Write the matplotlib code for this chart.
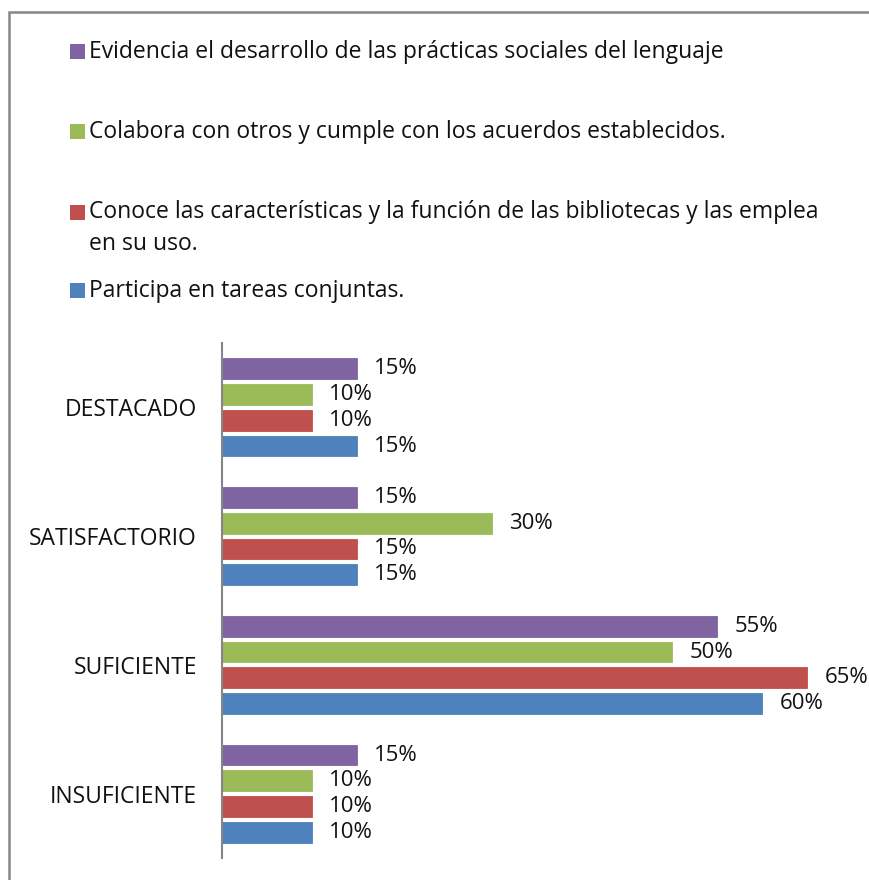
import numpy as np
import matplotlib
matplotlib.use("Agg")
import matplotlib.pyplot as plt
from matplotlib.patches import Rectangle

# categories bottom -> top
categories = ["INSUFICIENTE", "SUFICIENTE", "SATISFACTORIO", "DESTACADO"]

# series drawn from bottom of each group to top
series_names = [
    "Participa en tareas conjuntas.",
    "Conoce las características y la función de las bibliotecas y las emplea\nen su uso.",
    "Colabora con otros y cumple con los acuerdos establecidos.",
    "Evidencia el desarrollo de las prácticas sociales del lenguaje",
]
participa = [10, 60, 15, 15]
conoce = [10, 65, 15, 10]
colabora = [10, 50, 30, 10]
evidencia = [15, 55, 15, 15]
series_values = [participa, conoce, colabora, evidencia]
colors = ["#4F81BD", "#C0504D", "#9BBB59", "#8064A2"]

W, H = 870, 880
FONT = "Open Sans"
TXT = "#111111"
fig = plt.figure(figsize=(W / 100, H / 100), dpi=100)

# chart frame (only left and top edges visible)
fig.patches.append(Rectangle((9 / W, -0.1), 1.2, (H - 12) / H + 0.1,
                             transform=fig.transFigure, fill=False,
                             edgecolor="#878787", linewidth=1.8))

# plot area in pixels
left, right = 222, 852
top, bottom = 343, 858
ax = fig.add_axes([left / W, 1 - bottom / H, (right - left) / W, (bottom - top) / H])
ax.set_xlim(0, 70)
ax.set_ylim(-0.5, len(categories) - 0.5)
ax.patch.set_alpha(0)

y = np.arange(len(categories))
slot = 0.2
bar_h = 0.163
for i, (vals, col) in enumerate(zip(series_values, colors)):
    pos = y + (i - 1.5) * slot
    ax.barh(pos, vals, height=bar_h, color=col, edgecolor=col, linewidth=0.6)
    for p, v in zip(pos, vals):
        ax.annotate(f"{v}%", (v, p), xytext=(12.5, 0), textcoords="offset points",
                    ha="left", va="center", fontsize=16, family=FONT, color=TXT)

for s in ["top", "right", "bottom"]:
    ax.spines[s].set_visible(False)
ax.spines["left"].set_color("#868686")
ax.spines["left"].set_linewidth(1.5)
ax.set_xticks([])
ax.set_yticks(y)
ax.set_yticklabels(categories, fontsize=16.5, family=FONT, color=TXT)
ax.tick_params(axis="y", length=0, pad=18)

# legend (top to bottom as in the chart)
legend_y = [52, 132, 213, 291]
for name, col, ly in zip(series_names[::-1], colors[::-1], legend_y):
    fig.patches.append(Rectangle((70 / W, 1 - (ly + 7) / H), 15 / W, 15 / H,
                                 transform=fig.transFigure, facecolor=col, edgecolor="none"))
    if "\n" in name:
        fig.text(89 / W, 1 - (ly - 13) / H, name, ha="left", va="top",
                 fontsize=16.5, family=FONT, color=TXT, linespacing=1.45)
    else:
        fig.text(89 / W, 1 - ly / H, name, ha="left", va="center",
                 fontsize=16.5, family=FONT, color=TXT)

fig.savefig("out.png", dpi=100)
